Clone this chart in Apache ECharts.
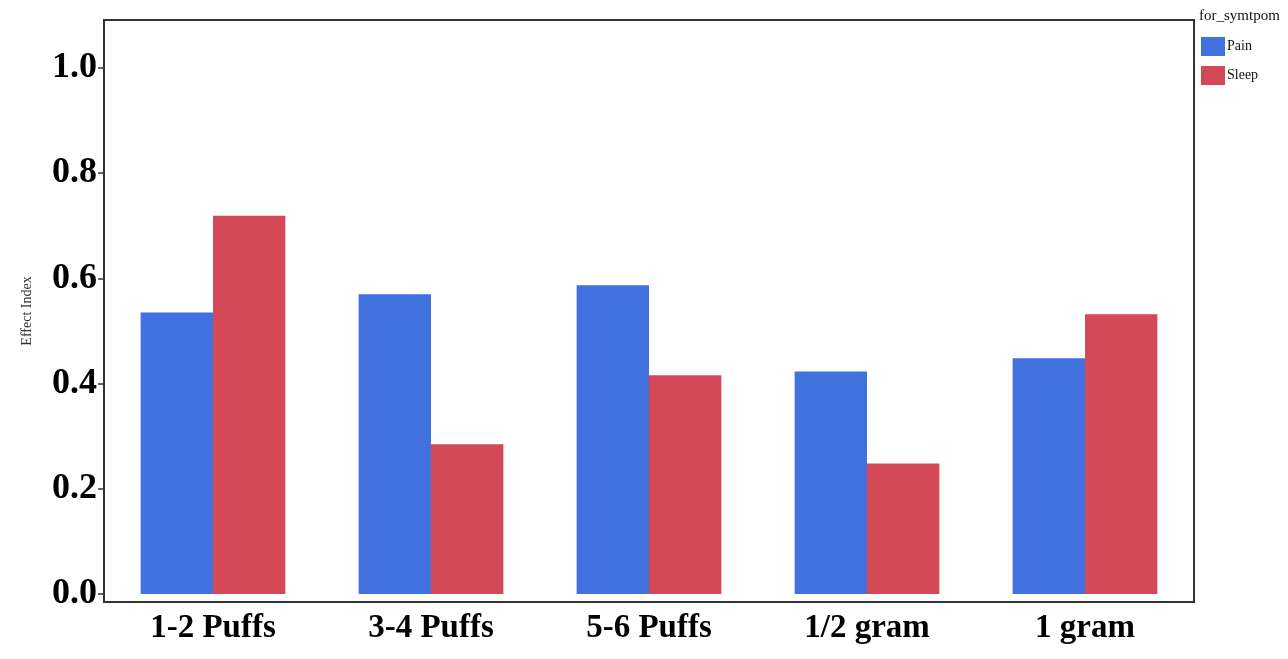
<!DOCTYPE html>
<html>
<head>
<meta charset="utf-8">
<script src="https://cdn.jsdelivr.net/npm/echarts@6/dist/echarts.min.js"></script>
<style>html,body{margin:0;padding:0;background:#fff}#c{width:1288px;height:659px}</style>
</head>
<body>
<div id="c"></div>
<script>
var categories = ['1-2 Puffs', '3-4 Puffs', '5-6 Puffs', '1/2 gram', '1 gram'];
var painValues = [0.535, 0.570, 0.587, 0.423, 0.448];
var sleepValues = [0.719, 0.285, 0.416, 0.248, 0.532];
var yTicks = [0, 0.2, 0.4, 0.6, 0.8, 1.0];
var legendTitle = 'for_symtpom';
var yName = 'Effect Index';

var serif = '"Liberation Serif", "DejaVu Serif", serif';
var chart = echarts.init(document.getElementById('c'));
chart.setOption({
  animation: false,
  backgroundColor: '#fff',
  title: {
    text: legendTitle, left: 1199, top: 9, padding: 0,
    textStyle: { fontFamily: serif, fontSize: 15, fontWeight: 'normal', color: '#111' }
  },
  legend: {
    orient: 'vertical', left: 1201, top: 37, padding: 0,
    itemWidth: 24, itemHeight: 19, itemGap: 10,
    icon: 'rect',
    textStyle: { fontFamily: serif, fontSize: 14, color: '#111', padding: [0, 0, 0, -3] },
    data: ['Pain', 'Sleep']
  },
  grid: {
    left: 104, right: 94, top: 20, bottom: 57,
    show: true, borderColor: '#333', borderWidth: 2, backgroundColor: 'transparent'
  },
  xAxis: {
    type: 'category', data: categories,
    axisLine: { show: true, onZero: false, lineStyle: { color: '#333', width: 2 } },
    axisTick: { show: false },
    axisLabel: { fontFamily: serif, fontWeight: 'bold', fontSize: 33, color: '#000', margin: 10 }
  },
  yAxis: {
    type: 'value', min: -0.015, max: 1.091,
    name: yName, nameLocation: 'middle', nameGap: 70, nameRotate: 90,
    nameTextStyle: { fontFamily: serif, fontSize: 14, color: '#333' },
    axisLine: { show: true, lineStyle: { color: '#333', width: 2 } },
    axisTick: { show: true, length: 6, customValues: yTicks, lineStyle: { color: '#333', width: 1.5 } },
    axisLabel: {
      customValues: yTicks, fontFamily: serif, fontWeight: 'bold', fontSize: 36, color: '#000', margin: 7,
      formatter: function (v) { return v.toFixed(1); }
    },
    splitLine: { show: false }
  },
  series: [
    { name: 'Pain', type: 'bar', data: painValues, barGap: '0%', barCategoryGap: '33.6%',
      itemStyle: { color: '#4171de' } },
    { name: 'Sleep', type: 'bar', data: sleepValues, barGap: '0%', barCategoryGap: '33.6%',
      itemStyle: { color: '#d54857' } }
  ]
});
</script>
</body>
</html>
